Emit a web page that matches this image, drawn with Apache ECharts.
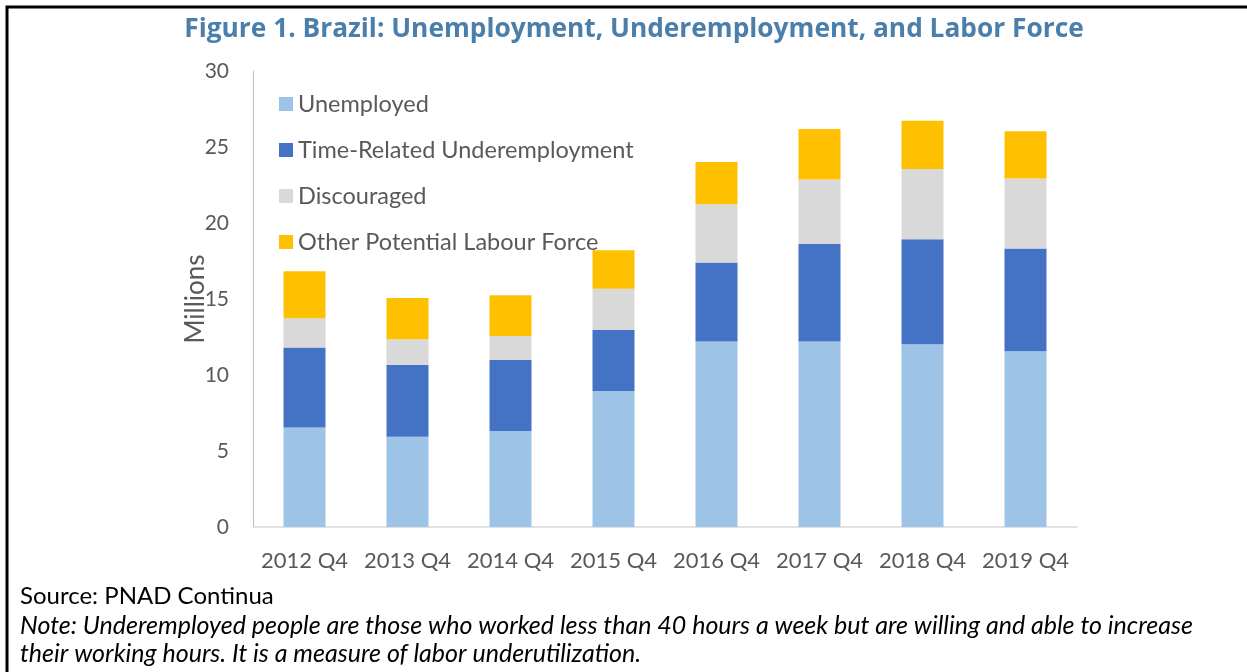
<!DOCTYPE html>
<html lang="en">

<head>
    <meta charset="UTF-8">
    <title>Brazil Labor Underutilization</title>
    <script src="https://cdnjs.cloudflare.com/ajax/libs/echarts/6.0.0/echarts.min.js"></script>
    <style>
        body {
            margin: 0;
            background: #fff;
        }
    </style>
</head>

<body>
    <div id="main" style="width: 1247px; height: 672px;"></div>
    <script>
        // data (millions)
        const quarters = ["2012 Q4", "2013 Q4", "2014 Q4", "2015 Q4", "2016 Q4", "2017 Q4", "2018 Q4", "2019 Q4"];
        const unemployed = [6.55, 5.94, 6.31, 8.95, 12.20, 12.20, 12.03, 11.57];
        const underemployed = [5.26, 4.71, 4.67, 4.02, 5.20, 6.42, 6.90, 6.75];
        const discouraged = [1.92, 1.71, 1.59, 2.70, 3.84, 4.24, 4.63, 4.60];
        const otherPotential = [3.10, 2.70, 2.67, 2.54, 2.77, 3.33, 3.16, 3.12];
        const seriesNames = ["Unemployed", "Time-Related Underemployment", "Discouraged", "Other Potential Labour Force"];
        const colors = ["#9DC3E6", "#4472C4", "#D9D9D9", "#FFC000"];

        const font = "Lato, 'Open Sans', sans-serif";
        const chart = echarts.init(document.getElementById('main'));

        function bar(name, data, color) {
            return {
                name: name,
                type: 'bar',
                stack: 'total',
                data: data,
                barWidth: 42,
                itemStyle: { color: color },
                emphasis: { disabled: true }
            };
        }

        const option = {
            animation: false,
            title: {
                text: "Figure 1. Brazil: Unemployment, Underemployment, and Labor Force",
                left: 629,
                top: 12,
                textAlign: 'center',
                textStyle: {
                    fontFamily: "'Open Sans', sans-serif",
                    fontWeight: 'bold',
                    fontSize: 26.3,
                    color: "#4A7EAB"
                }
            },
            legend: {
                orient: 'vertical',
                left: 279,
                top: 92,
                padding: 0,
                icon: 'rect',
                itemWidth: 14,
                itemHeight: 14,
                itemGap: 22,
                data: seriesNames,
                textStyle: {
                    fontFamily: font,
                    fontSize: 23.5,
                    lineHeight: 24,
                    color: "#595959"
                }
            },
            grid: {
                left: 253,
                right: 170,
                top: 71,
                bottom: 145,
                containLabel: false
            },
            xAxis: {
                type: 'category',
                data: quarters,
                axisLine: { lineStyle: { color: "#D9D9D9", width: 1.5 } },
                axisTick: { show: false },
                axisLabel: {
                    interval: 0,
                    fontFamily: font,
                    fontSize: 22,
                    color: "#595959",
                    margin: 23
                }
            },
            yAxis: {
                type: 'value',
                min: 0,
                max: 30,
                interval: 5,
                name: "Millions",
                nameLocation: 'middle',
                nameGap: 44,
                nameMoveOverlap: false,
                nameTextStyle: {
                    fontFamily: font,
                    fontSize: 26,
                    color: "#595959"
                },
                axisLine: { show: true, lineStyle: { color: "#BFBFBF" } },
                axisTick: { show: false },
                splitLine: { show: false },
                axisLabel: {
                    fontFamily: font,
                    fontSize: 21,
                    color: "#595959",
                    margin: 24
                }
            },
            graphic: [
                {
                    type: 'polyline',
                    shape: { points: [[7, 672], [7, 7], [1247, 7]] },
                    style: { stroke: "#000", lineWidth: 3, fill: null }
                },
                {
                    type: 'text',
                    left: 20,
                    top: 584,
                    style: {
                        text: "Source: PNAD Continua",
                        font: "24px " + font,
                        fill: "#000"
                    }
                },
                {
                    type: 'text',
                    left: 20,
                    top: 613,
                    style: {
                        text: "Note: Underemployed people are those who worked less than 40 hours a week but are willing and able to increase",
                        font: "italic 25px " + font,
                        fill: "#000"
                    }
                },
                {
                    type: 'text',
                    left: 20,
                    top: 641,
                    style: {
                        text: "their working hours. It is a measure of labor underutilization.",
                        font: "italic 25px " + font,
                        fill: "#000"
                    }
                }
            ],
            series: [
                bar(seriesNames[0], unemployed, colors[0]),
                bar(seriesNames[1], underemployed, colors[1]),
                bar(seriesNames[2], discouraged, colors[2]),
                bar(seriesNames[3], otherPotential, colors[3])
            ]
        };

        chart.setOption(option);
    </script>

</body>

</html>
